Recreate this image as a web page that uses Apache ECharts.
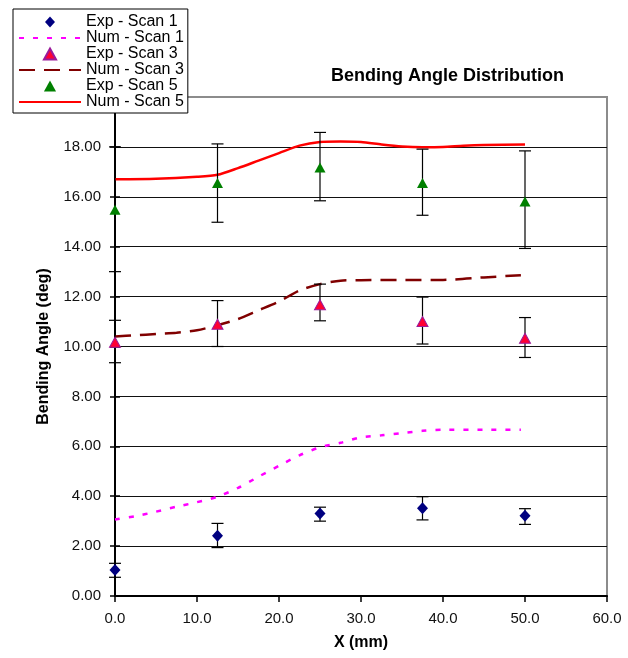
<!DOCTYPE html>
<html>
<head>
<meta charset="utf-8">
<script src="https://cdn.jsdelivr.net/npm/echarts@6/dist/echarts.min.js"></script>
<style>
  html, body { margin: 0; padding: 0; background: #fff; }
  #chart { width: 628px; height: 658px; }
</style>
</head>
<body>
<div id="chart"></div>
<script>
// experimental stations (mm)
const expX = [0, 12.5, 25, 37.5, 50];

// Exp - Scan 1
const exp1Y = [1.04, 2.41, 3.31, 3.52, 3.22];
const exp1Low = [0.75, 1.94, 3.0, 3.05, 2.87];
const exp1High = [1.31, 2.91, 3.56, 3.98, 3.5];

// Exp - Scan 3
const exp3Y = [10.17, 10.89, 11.67, 11.0, 10.33];
const exp3Low = [9.35, 10.0, 11.03, 10.1, 9.56];
const exp3High = [11.05, 11.84, 12.5, 11.98, 11.16];

// Exp - Scan 5
const exp5Y = [15.48, 16.55, 17.17, 16.55, 15.81];
const exp5Low = [13.0, 14.98, 15.84, 15.26, 13.93];
const exp5High = [18.0, 18.12, 18.58, 17.91, 17.84];

// numerical curves
const num1X = [0, 2.5, 5, 7.5, 10, 12.5, 15, 17.5, 20, 22.5, 25, 27.5, 30, 32.5, 35, 37.5, 40, 45, 49.5];
const num1Y = [3.07, 3.2, 3.38, 3.58, 3.76, 3.98, 4.33, 4.78, 5.22, 5.64, 5.96, 6.14, 6.36, 6.44, 6.53, 6.62, 6.66, 6.66, 6.66];

const num3X = [0, 2.5, 5, 7.5, 10, 12.5, 15, 17.5, 20, 22.5, 25, 27.5, 30, 35, 40, 45, 49.5];
const num3Y = [10.4, 10.45, 10.5, 10.55, 10.65, 10.85, 11.1, 11.45, 11.8, 12.25, 12.5, 12.64, 12.66, 12.67, 12.67, 12.77, 12.86];

const num5X = [0, 5, 10, 12.5, 15, 17.5, 20, 22.5, 25, 27.5, 30, 32.5, 35, 37.5, 40, 42.5, 45, 50];
const num5Y = [16.7, 16.72, 16.8, 16.88, 17.15, 17.45, 17.75, 18.05, 18.2, 18.22, 18.2, 18.1, 18.02, 17.99, 18.0, 18.05, 18.08, 18.1];

const FONT = 'Liberation Sans, Arial, sans-serif';
const DIAMOND = 'path://M5,0L10,5.5L5,11L0,5.5Z';
const TRIANGLE = 'path://M5.5,0L11,10L0,10Z';
const NO_MARK = { opacity: 0 };

// legend entries: markers for Exp, plain lines for Num
const legendItems = [
    { name: 'Exp - Scan 1', icon: DIAMOND },
    { name: 'Num - Scan 1', itemStyle: NO_MARK },
    { name: 'Exp - Scan 3', icon: TRIANGLE },
    { name: 'Num - Scan 3', itemStyle: NO_MARK },
    { name: 'Exp - Scan 5', icon: TRIANGLE },
    { name: 'Num - Scan 5', itemStyle: NO_MARK }
];

function pairs (xs, ys) {
    return xs.map((x, i) => [x, ys[i]]);
}

function bars (low, high) {
    let out = [];
    for (let i = 0; i < expX.length; i++) {
        out.push([expX[i], low[i], high[i]]);
    }
    return out;
}

// vertical error bar with caps
function renderBar (params, api) {
    const lo = api.coord([api.value(0), api.value(1)]);
    const hi = api.coord([api.value(0), api.value(2)]);
    const w = 6;
    const style = { stroke: '#000', lineWidth: 1.2 };
    return {
        type: 'group',
        children: [
            { type: 'line', shape: { x1: lo[0], y1: lo[1], x2: hi[0], y2: hi[1] }, style: style },
            { type: 'line', shape: { x1: lo[0] - w, y1: lo[1], x2: lo[0] + w, y2: lo[1] }, style: style },
            { type: 'line', shape: { x1: hi[0] - w, y1: hi[1], x2: hi[0] + w, y2: hi[1] }, style: style }
        ]
    };
}

function barSeries (low, high) {
    return {
        type: 'custom',
        renderItem: renderBar,
        data: bars(low, high),
        encode: { x: 0, y: [1, 2] },
        clip: false,
        z: 3,
        silent: true
    };
}

const yBase = {
    type: 'value',
    min: 0,
    max: 20,
    interval: 2,
    position: 'left',
    axisLine: { show: true, lineStyle: { color: '#000', width: 2 } }
};

const chart = echarts.init(document.getElementById('chart'));

chart.setOption({
    animation: false,
    backgroundColor: '#fff',
    title: {
        text: 'Bending Angle Distribution',
        left: 331,
        top: 67,
        padding: 0,
        textStyle: { fontFamily: FONT, fontSize: 18, fontWeight: 'bold', color: '#000' }
    },
    legend: {
        data: legendItems,
        orient: 'vertical',
        left: 13,
        top: 9,
        padding: [5, 4, 3, 5],
        itemGap: 0,
        itemWidth: 62,
        itemHeight: 11,
        symbolKeepAspect: true,
        backgroundColor: '#fff',
        borderColor: '#000',
        borderWidth: 1,
        borderRadius: 0,
        selectedMode: false,
        textStyle: { fontFamily: FONT, fontSize: 16, color: '#000', lineHeight: 15.5 }
    },
    grid: {
        left: 115,
        right: 21,
        top: 97,
        bottom: 62,
        show: true,
        borderColor: '#8c8c8c',
        borderWidth: 2
    },
    xAxis: {
        type: 'value',
        min: 0,
        max: 60,
        interval: 10,
        name: 'X (mm)',
        nameLocation: 'middle',
        nameGap: 39,
        nameTextStyle: { fontFamily: FONT, fontSize: 16, fontWeight: 'bold', color: '#000' },
        axisLine: { show: true, lineStyle: { color: '#000', width: 2 } },
        axisTick: { show: true, length: 6, lineStyle: { color: '#000', width: 1.5 } },
        axisLabel: {
            margin: 15,
            fontFamily: FONT,
            fontSize: 15,
            color: '#111',
            formatter: v => v.toFixed(1)
        },
        splitLine: { show: false }
    },
    yAxis: [
        Object.assign({}, yBase, {
            name: 'Bending Angle (deg)',
            nameLocation: 'middle',
            nameGap: 63,
            nameTextStyle: { fontFamily: FONT, fontSize: 16, fontWeight: 'bold', color: '#000' },
            axisTick: { show: true, length: 5, lineStyle: { color: '#000', width: 1.5 } },
            axisLabel: {
                margin: 14,
                fontFamily: FONT,
                fontSize: 15,
                color: '#111',
                formatter: v => v.toFixed(2)
            },
            splitLine: { show: true, showMaxLine: false, lineStyle: { color: '#111', width: 1 } }
        }),
        Object.assign({}, yBase, {
            axisTick: { show: true, inside: true, length: 5, lineStyle: { color: '#000', width: 1.5 } },
            axisLabel: { show: false },
            splitLine: { show: false }
        })
    ],
    series: [
        {
            name: 'Num - Scan 1',
            type: 'line',
            data: pairs(num1X, num1Y),
            symbol: 'none',
            showSymbol: false,
            smooth: 0.25,
            lineStyle: { color: '#ff00ff', width: 2.5, type: [5, 9] },
            itemStyle: { color: '#ff00ff' },
            z: 2
        },
        {
            name: 'Num - Scan 3',
            type: 'line',
            data: pairs(num3X, num3Y),
            symbol: 'none',
            showSymbol: false,
            smooth: 0.25,
            lineStyle: { color: '#800000', width: 2.5, type: [16, 9] },
            itemStyle: { color: '#800000' },
            z: 2
        },
        {
            name: 'Num - Scan 5',
            type: 'line',
            data: pairs(num5X, num5Y),
            symbol: 'none',
            showSymbol: false,
            smooth: 0.25,
            lineStyle: { color: '#ff0000', width: 2.5 },
            itemStyle: { color: '#ff0000' },
            z: 2
        },
        barSeries(exp1Low, exp1High),
        barSeries(exp3Low, exp3High),
        barSeries(exp5Low, exp5High),
        {
            name: 'Exp - Scan 1',
            type: 'scatter',
            data: pairs(expX, exp1Y),
            symbol: 'diamond',
            symbolSize: [11, 12],
            itemStyle: { color: '#000080', opacity: 1 },
            z: 4
        },
        {
            name: 'Exp - Scan 3',
            type: 'scatter',
            data: pairs(expX, exp3Y),
            symbol: 'triangle',
            symbolSize: [11, 10],
            itemStyle: { color: '#ff0033', borderColor: '#9a1a9a', borderWidth: 1, opacity: 1 },
            z: 4
        },
        {
            name: 'Exp - Scan 5',
            type: 'scatter',
            data: pairs(expX, exp5Y),
            symbol: 'triangle',
            symbolSize: [11, 10],
            itemStyle: { color: '#008000', opacity: 1 },
            z: 4
        }
    ]
});
</script>
</body>
</html>
